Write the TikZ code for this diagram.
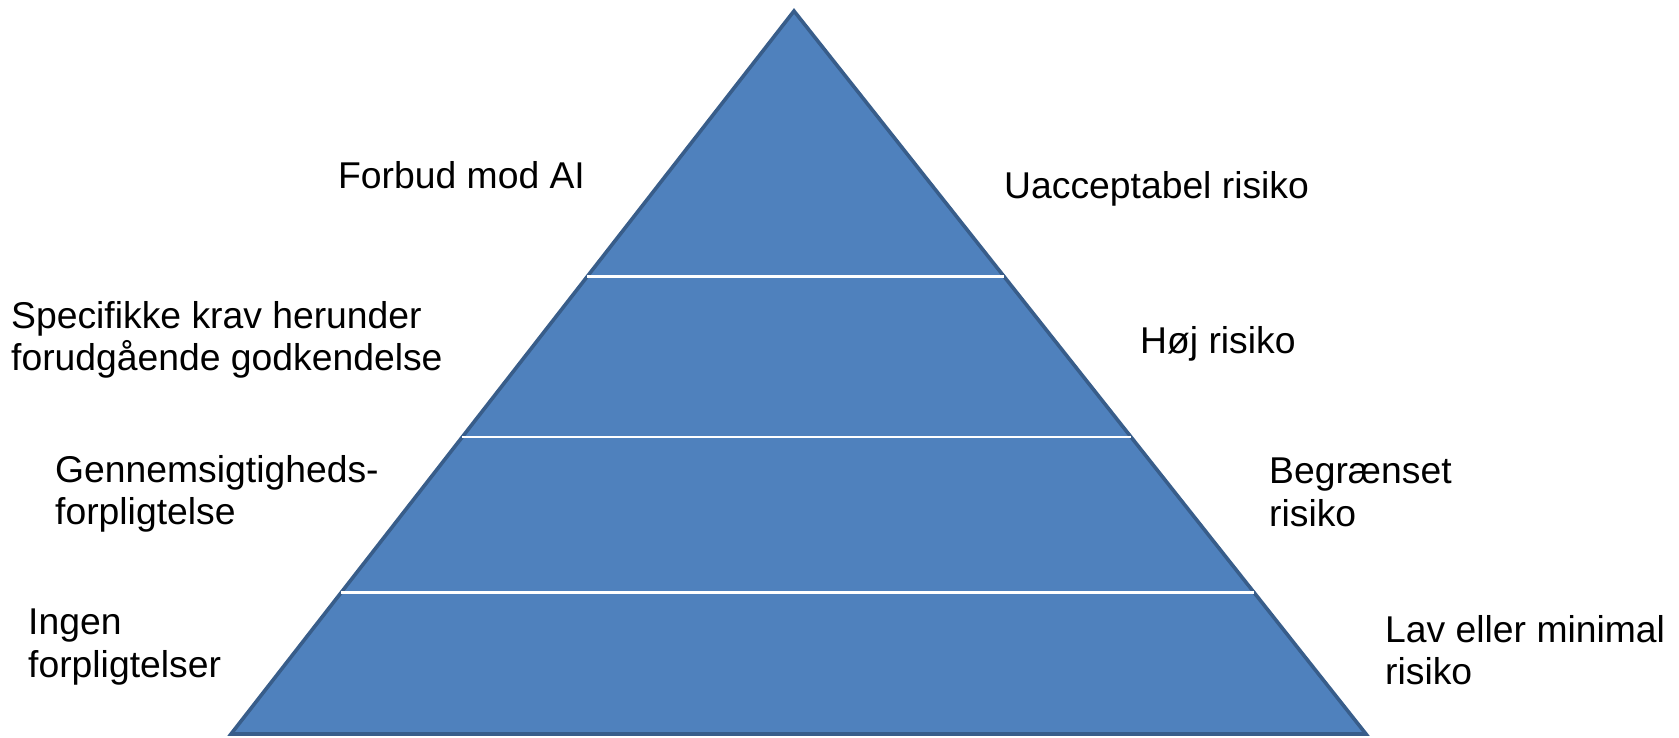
\documentclass[tikz,border=0pt]{standalone}
\usepackage{fontspec}
\setmainfont{Liberation Sans}
\usetikzlibrary{calc}
\definecolor{pyrfill}{HTML}{4F81BD}
\definecolor{pyredge}{HTML}{385D8A}
\begin{document}
\begin{tikzpicture}[x=1pt,y=-1pt,
  lbl/.style={anchor=base west,inner sep=0pt,align=left,
    font=\fontsize{37.3pt}{42.5pt}\selectfont},
  divider/.style={draw=white,line width=2.2pt},
  pyramid/.style={fill=pyrfill,draw=pyredge,line width=3.6pt,line join=miter}]
\useasboundingbox (0,0) rectangle (1679,737);
\coordinate (apex) at (794,11);
\coordinate (bl) at (231,734);
\coordinate (br) at (1366,734);
\path[pyramid] (apex) -- (bl) -- (br) -- cycle;
\foreach \t/\n in {0.3672/a,0.5892/b,0.8043/c}{
  \coordinate (l\n) at ($(apex)!\t!(bl)$);
  \coordinate (r\n) at ($(apex)!\t!(br)$);
  \draw[divider] (l\n) -- (r\n);
}
% multi-line nodes: base anchor sits on the last line
\node[lbl] (forbud) at (338,188.5) {Forbud mod AI};
\node[lbl] (uaccept) at (1004,198.5) {Uacceptabel risiko};
\node[lbl] (specifikke) at (11,370.5) {Specifikke krav herunder\\forudgående godkendelse};
\node[lbl] (hoej) at (1140,353.5) {Høj risiko};
\node[lbl] (gennem) at (55,524.5) {Gennemsigtigheds-\\forpligtelse};
\node[lbl] (begr) at (1269,526) {Begrænset\\risiko};
\node[lbl] (ingen) at (28,677) {Ingen\\forpligtelser};
\node[lbl] (lav) at (1385,684.5) {Lav eller minimal\\risiko};
\end{tikzpicture}
\end{document}
